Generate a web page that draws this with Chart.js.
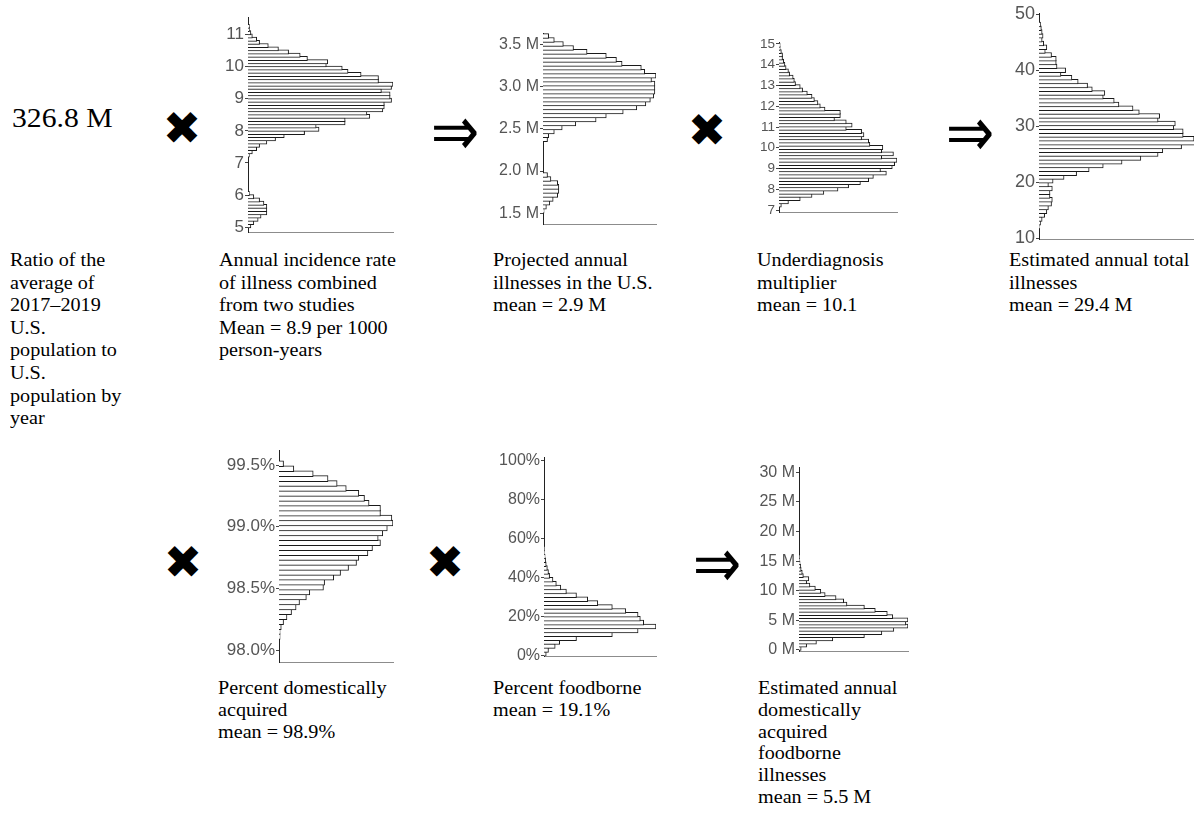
<!DOCTYPE html>
<html>
<head>
<meta charset="utf-8">
<script src="https://cdn.jsdelivr.net/npm/chart.js@4.4.1/dist/chart.umd.min.js"></script>
<style>
html, body { margin: 0; padding: 0; background: #fff; width: 1194px; height: 818px; overflow: hidden; }
canvas { position: absolute; }
.cap { position: absolute; font-family: "Liberation Serif", "Times New Roman", serif; font-size: 18px; line-height: 22.6px;
       color: #000; white-space: nowrap; transform: scaleX(1.12); transform-origin: 0 0; }
.low { line-height: 21.8px; }
.big { font-size: 26.5px; line-height: 30px; }
.op { position: absolute; font-family: "DejaVu Sans", sans-serif; color: #000; line-height: 1; transform: translate(-50%, -50%); }
.times { font-size: 46px; }
.arrow { font-size: 58px; transform: translate(-50%, -50%) scaleY(1.2); }
</style>
</head>
<body>

<div class="cap big" style="left:12px;top:103px">326.8 M</div>
<div class="cap" style="left:10px;top:249px">Ratio of the<br>average of<br>2017–2019<br>U.S.<br>population to<br>U.S.<br>population by<br>year</div>
<div class="cap" style="left:219px;top:249px">Annual incidence rate<br>of illness combined<br>from two studies<br>Mean = 8.9 per 1000<br>person-years</div>
<div class="cap" style="left:493px;top:249px">Projected annual<br>illnesses in the U.S.<br>mean = 2.9 M</div>
<div class="cap" style="left:757px;top:249px">Underdiagnosis<br>multiplier<br>mean = 10.1</div>
<div class="cap" style="left:1009px;top:249px">Estimated annual total<br>illnesses<br>mean = 29.4 M</div>
<div class="cap low" style="left:218px;top:678px">Percent domestically<br>acquired<br>mean = 98.9%</div>
<div class="cap low" style="left:493px;top:678px">Percent foodborne<br>mean = 19.1%</div>
<div class="cap low" style="left:758px;top:678px">Estimated annual<br>domestically<br>acquired<br>foodborne<br>illnesses<br>mean = 5.5 M</div>

<div class="op times" style="left:182px;top:128px">✖</div>
<div class="op arrow" style="left:455px;top:131px">⇒</div>
<div class="op times" style="left:707px;top:130px">✖</div>
<div class="op arrow" style="left:970px;top:132px">⇒</div>
<div class="op times" style="left:183px;top:562px">✖</div>
<div class="op times" style="left:445px;top:562px">✖</div>
<div class="op arrow" style="left:717px;top:563px">⇒</div>

<canvas id="inc"></canvas>
<canvas id="proj"></canvas>
<canvas id="under"></canvas>
<canvas id="total"></canvas>
<canvas id="domestic"></canvas>
<canvas id="food"></canvas>
<canvas id="final"></canvas>

<script>
// histogram bins: first bin centre, bin width, relative counts (bottom to top)

// annual incidence rate per 1000 person-years
const incStart = 5.05, incWidth = 0.1;
const incCounts = [2, 4, 7, 9, 13, 13, 13, 11, 8, 4, 1,
  0, 0, 0, 0, 0, 0, 0, 0, 0, 0, 0,
  1, 3, 6, 8, 13, 19, 25, 39, 49, 47, 67, 67, 84, 82, 93, 94, 94, 99, 98, 98,
  92, 99, 100, 90, 90, 78, 69, 65, 54, 55, 41, 36, 28, 21, 14, 8, 6, 3, 2, 1, 1];
const incTicks = [5, 6, 7, 8, 9, 10, 11];

// projected annual illnesses (millions)
const projStart = 1.53, projWidth = 0.047;
const projCounts = [1, 3, 6, 9, 13, 14, 14, 13, 7, 4,
  0, 0, 0, 0, 0, 0, 0, 0,
  4, 5, 10, 17, 29, 47, 56, 71, 83, 91, 95, 98, 99, 99, 99, 96, 100, 90, 87, 70,
  65, 56, 39, 27, 18, 10, 5];
const projTicks = [1.5, 2.0, 2.5, 3.0, 3.5];

// underdiagnosis multiplier
const underStart = 7.24, underWidth = 0.154;
const underCounts = [2, 8, 18, 28, 38, 50, 59, 69, 76, 80, 91, 86, 96, 98, 100, 87, 97, 87, 88, 77,
  76, 70, 72, 70, 57, 62, 57, 47, 52, 52, 39, 35, 33, 30, 28, 24, 20, 18, 14, 13,
  12, 9, 8, 6, 5, 4, 3, 3, 2, 1, 1];
const underTicks = [7, 8, 9, 10, 11, 12, 13, 14, 15];

// estimated annual total illnesses (millions)
const totalStart = 12.1, totalWidth = 0.68;
const totalCounts = [0.5, 1, 2, 3.6, 5, 6, 8, 8.5, 7, 7, 8.5, 6, 9, 16, 24, 32, 41, 53, 65, 76,
  79, 91, 100, 99, 92, 92, 86, 87, 76, 77, 64, 60, 51, 48, 41, 42, 34, 31, 25, 21,
  14, 17, 11.5, 11, 11, 8, 4, 5, 3, 2, 2.6, 2, 1.5, 1];
const totalTicks = [10, 20, 30, 40, 50];

// percent domestically acquired
const domStart = 98.11, domWidth = 0.04;
const domCounts = [1, 1, 2, 4, 7, 11, 15, 18, 24, 27, 39, 40, 48, 54, 61, 68, 70, 78, 82, 89,
  87, 91, 95, 100, 99, 89, 89, 79, 75, 70, 59, 51, 43, 30, 13, 4];
const domTicks = [98.0, 98.5, 99.0, 99.5];

// percent foodborne
const foodStart = 1, foodWidth = 2;
const foodCounts = [2, 4, 10, 14, 29, 61, 84, 100, 89, 86, 84, 73, 61, 48, 39, 29, 20, 15, 11, 8,
  5, 4, 3, 2, 1.5, 1, 0.6, 0.4];
const foodTicks = [0, 20, 40, 60, 80, 100];

// estimated annual domestically acquired foodborne illnesses (millions)
const finalStart = 0.28, finalWidth = 0.534;
const finalCounts = [2, 7, 16, 31, 60, 76, 87, 100, 98, 100, 86, 81, 70, 60, 44, 41, 34, 24, 20, 15,
  10, 7, 9, 4, 3, 2, 1.5, 1, 0.6, 0.4];
const finalTicks = [0, 5, 10, 15, 20, 25, 30];

// where each panel sits on the page
const panels = [
  { id: 'inc', start: incStart, width: incWidth, counts: incCounts, ticks: incTicks, fmt: v => String(v),
    axisX: 248, top: 17, bottom: 232, right: 393, yMin: 4.854, yMax: 11.54, xMax: 100, font: 17 },
  { id: 'proj', start: projStart, width: projWidth, counts: projCounts, ticks: projTicks, fmt: v => v.toFixed(1) + ' M',
    axisX: 543, top: 33, bottom: 224, right: 656, yMin: 1.373, yMax: 3.634, xMax: 100, font: 16 },
  { id: 'under', start: underStart, width: underWidth, counts: underCounts, ticks: underTicks, fmt: v => String(v),
    axisX: 779, top: 42, bottom: 212, right: 897, yMin: 6.904, yMax: 15.096, xMax: 100, font: 13.5 },
  { id: 'total', start: totalStart, width: totalWidth, counts: totalCounts, ticks: totalTicks, fmt: v => String(v),
    axisX: 1039, top: 13, bottom: 239, right: 1230, yMin: 9.875, yMax: 50.18, xMax: 121.9, font: 18 },
  { id: 'domestic', start: domStart, width: domWidth, counts: domCounts, ticks: domTicks, fmt: v => v.toFixed(1) + '%',
    axisX: 279, top: 450, bottom: 662, right: 393, yMin: 97.903, yMax: 99.622, xMax: 100, font: 17 },
  { id: 'food', start: foodStart, width: foodWidth, counts: foodCounts, ticks: foodTicks, fmt: v => v + '%',
    axisX: 544, top: 457, bottom: 656, right: 656, yMin: -0.15, yMax: 102.05, xMax: 100, font: 16 },
  { id: 'final', start: finalStart, width: finalWidth, counts: finalCounts, ticks: finalTicks, fmt: v => v + ' M',
    axisX: 799, top: 467, bottom: 651, right: 908, yMin: -0.17, yMax: 30.89, xMax: 100, font: 16 }
];

const AXIS_W = 70, PAD_TOP = 16, PAD_BOTTOM = 14, PAD_RIGHT = 2;

function histogram(p) {
  const canvas = document.getElementById(p.id);
  canvas.width = AXIS_W + (p.right - p.axisX) + PAD_RIGHT;
  canvas.height = (p.bottom - p.top) + PAD_TOP + PAD_BOTTOM;
  canvas.style.left = (p.axisX - AXIS_W) + 'px';
  canvas.style.top = (p.top - PAD_TOP) + 'px';

  const data = [];
  p.counts.forEach((c, i) => {
    if (c > 0) data.push({ x: c, y: p.start + i * p.width });
  });
  const binPx = p.width * (p.bottom - p.top) / (p.yMax - p.yMin);

  return new Chart(canvas.getContext('2d'), {
    type: 'bar',
    data: {
      datasets: [{
        data: data,
        backgroundColor: '#ffffff',
        borderColor: '#1a1a1a',
        borderWidth: 1,
        barThickness: binPx + 1
      }]
    },
    options: {
      indexAxis: 'y',
      responsive: false,
      animation: false,
      devicePixelRatio: 1,
      layout: { padding: { top: PAD_TOP, bottom: PAD_BOTTOM, left: 0, right: PAD_RIGHT } },
      plugins: { legend: { display: false }, tooltip: { enabled: false } },
      scales: {
        x: {
          type: 'linear', min: 0, max: p.xMax, offset: false,
          ticks: { display: false },
          grid: { display: false, drawTicks: false, offset: false },
          border: { display: true, color: '#8c8c8c', width: 1 }
        },
        y: {
          type: 'linear', min: p.yMin, max: p.yMax, offset: false,
          afterFit: s => { s.width = AXIS_W; },
          afterBuildTicks: s => { s.ticks = p.ticks.map(v => ({ value: v })); },
          ticks: {
            autoSkip: false, padding: 1, color: '#555555',
            font: { family: 'Liberation Sans', size: p.font },
            callback: v => p.fmt(v)
          },
          grid: { display: true, offset: false, drawOnChartArea: false, drawTicks: true, tickLength: 3, color: '#444444' },
          border: { display: true, color: '#222222', width: 1 }
        }
      }
    }
  });
}

panels.forEach(histogram);
</script>
</body>
</html>
